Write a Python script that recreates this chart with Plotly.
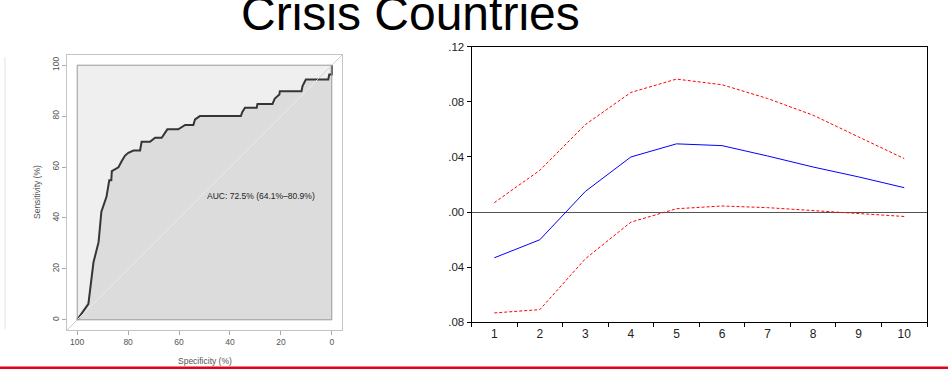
import plotly.graph_objects as go

W, H = 948, 369

# ---------------- data ----------------
# ROC curve (left panel)
roc_specificity = [100, 95.6, 93.6, 91.6, 90.5, 88.5, 87.4, 86.6, 86.4, 83.8, 82.5, 81.2, 79.9, 77.9,
                   75.3, 74.7, 71.4, 69.4, 66.8, 64.6, 60.3, 57.6, 54.4, 53.7, 51.8, 35.7, 35.2, 34.1,
                   29.5, 29.2, 23.3, 22.4, 20.6, 20.4, 11.9, 11.5, 10.2, 1.4, 1.0, 0, 0]
roc_sensitivity = [0, 6.3, 22.6, 30.5, 42.5, 48.3, 54.8, 54.8, 58.4, 59.9, 62.4, 64.5, 65.6, 66.5,
                   66.5, 69.9, 69.9, 71.5, 71.5, 74.8, 74.8, 76.5, 76.5, 78.7, 80.0, 80.0, 81.5, 83.3,
                   83.3, 84.8, 84.8, 86.9, 88.5, 89.8, 89.8, 91.8, 94.4, 94.4, 96.3, 96.3, 100]
roc_ticks = [100, 80, 60, 40, 20, 0]
auc_text = "AUC: 72.5% (64.1%–80.9%)"

# Impulse response (right panel)
periods = ["1", "2", "3", "4", "5", "6", "7", "8", "9", "10"]
response = [-0.0332, -0.0201, 0.0150, 0.0400, 0.0495, 0.0482, 0.0407, 0.0327, 0.0255, 0.0177]
upper_band = [0.0068, 0.0303, 0.0635, 0.0868, 0.0965, 0.0924, 0.0824, 0.0703, 0.0545, 0.0388]
lower_band = [-0.0732, -0.0708, -0.0339, -0.0073, 0.0024, 0.0044, 0.0032, 0.0012, -0.0012, -0.0032]
irf_tickvals = [0.12, 0.08, 0.04, 0.0, -0.04, -0.08]
irf_ticktext = [".12", ".08", ".04", ".00", ".04", ".08"]

title_text = "Crisis Countries"

FONT = "Liberation Sans, Arial, sans-serif"

fig = go.Figure()

# ---- ROC panel ----
fig.add_trace(go.Scatter(
    x=roc_specificity, y=roc_sensitivity, mode="lines",
    line=dict(color="#353535", width=2), fill="tozeroy", fillcolor="#dcdcdc",
    xaxis="x", yaxis="y", showlegend=False, hoverinfo="skip"))

# identity line (lighter where it lies inside the AUC polygon)
cross = 100 - 94.4
fig.add_trace(go.Scatter(x=[104, 100], y=[-4, 0], mode="lines",
                         line=dict(color="#cfcfcf", width=1), xaxis="x", yaxis="y",
                         showlegend=False, hoverinfo="skip"))
fig.add_trace(go.Scatter(x=[100, cross], y=[0, 100 - cross], mode="lines",
                         line=dict(color="#ebebeb", width=1), xaxis="x", yaxis="y",
                         showlegend=False, hoverinfo="skip"))
fig.add_trace(go.Scatter(x=[cross, -4], y=[100 - cross, 104], mode="lines",
                         line=dict(color="#d2d2d2", width=1), xaxis="x", yaxis="y",
                         showlegend=False, hoverinfo="skip"))

# ---- IRF panel ----
fig.add_trace(go.Scatter(x=periods, y=upper_band, mode="lines",
                         line=dict(color="#ff0000", width=1, dash="3px,2px"),
                         xaxis="x2", yaxis="y2", showlegend=False))
fig.add_trace(go.Scatter(x=periods, y=lower_band, mode="lines",
                         line=dict(color="#ff0000", width=1, dash="3px,2px"),
                         xaxis="x2", yaxis="y2", showlegend=False))
fig.add_trace(go.Scatter(x=periods, y=response, mode="lines",
                         line=dict(color="#0000ff", width=1),
                         xaxis="x2", yaxis="y2", showlegend=False))

def py(p):  # pixel-from-top -> paper y
    return 1 - p / H

def px(p):
    return p / W

shapes = [
    # light max-AUC polygon (inner square)
    dict(type="rect", xref="x", yref="y", x0=100, x1=0, y0=0, y1=100,
         fillcolor="#efefef", line=dict(width=0), layer="below"),
    # inner square border
    dict(type="rect", xref="x", yref="y", x0=100, x1=0, y0=0, y1=100,
         fillcolor="rgba(0,0,0,0)", line=dict(color="#9a9a9a", width=1), layer="above"),
    # faint separator at far left
    dict(type="line", xref="paper", yref="paper", x0=px(5), x1=px(5), y0=py(329), y1=py(57),
         line=dict(color="#e2e2e2", width=1)),
    # red bottom rule
    dict(type="rect", xref="paper", yref="paper", x0=0, x1=1, y0=0, y1=2.6 / H,
         fillcolor="#e2001a", line=dict(width=0)),
]

annotations = [
    dict(text=title_text, xref="paper", yref="paper", x=px(410), y=py(42.5),
         xanchor="center", yanchor="bottom", showarrow=False,
         font=dict(family=FONT, size=48, color="#000")),
    dict(text=auc_text, xref="x", yref="y", x=50, y=48.5, xanchor="left", yanchor="middle",
         showarrow=False, font=dict(family=FONT, size=8.5, color="#222")),
    dict(text="Specificity (%)", xref="paper", yref="paper", x=px(204.5), y=py(361),
         xanchor="center", yanchor="middle", showarrow=False,
         font=dict(family=FONT, size=8.5, color="#555")),
    dict(text="Sensitivity (%)", xref="paper", yref="paper", x=px(37), y=py(192),
         xanchor="center", yanchor="middle", textangle=-90, showarrow=False,
         font=dict(family=FONT, size=8.5, color="#555")),
]

fig.update_layout(
    width=W, height=H, margin=dict(l=0, r=0, t=0, b=0, pad=0, autoexpand=False),
    paper_bgcolor="white", plot_bgcolor="white",
    font=dict(family=FONT),
    shapes=shapes, annotations=annotations,
    xaxis=dict(domain=[px(67), px(342)], range=[104, -4], anchor="y",
               tickvals=roc_ticks, ticktext=[str(t) for t in roc_ticks],
               ticks="outside", ticklen=4, tickcolor="#aaaaaa",
               showline=True, mirror=True, linecolor="#c4c4c4", linewidth=1,
               showgrid=False, zeroline=False, automargin=False,
               tickfont=dict(size=8.5, color="#555")),
    yaxis=dict(domain=[py(330), py(55)], range=[-4, 104], anchor="x",
               tickvals=roc_ticks, ticktext=[str(t) for t in roc_ticks],
               ticks="outside", ticklen=4, tickcolor="#aaaaaa", tickangle=-90,
               showline=True, mirror=True, linecolor="#c4c4c4", linewidth=1,
               showgrid=False, zeroline=False, automargin=False,
               tickfont=dict(size=8.5, color="#555")),
    xaxis2=dict(domain=[px(471.5), px(927)], anchor="y2", type="category",
                categoryorder="array", categoryarray=periods, range=[-0.5, 9.5],
                tickson="boundaries", ticks="outside", ticklen=4, tickcolor="#000",
                showline=True, mirror=True, linecolor="#000", linewidth=1,
                showgrid=False, zeroline=False, automargin=False,
                tickfont=dict(size=12, color="#222")),
    yaxis2=dict(domain=[py(322.3), py(46.7)], anchor="x2", range=[-0.08, 0.12],
                tickvals=irf_tickvals, ticktext=irf_ticktext,
                ticks="outside", ticklen=4, tickcolor="#000",
                showline=True, mirror=True, linecolor="#000", linewidth=1,
                showgrid=False, zeroline=True, zerolinecolor="#555", zerolinewidth=1.2,
                automargin=False,
                tickfont=dict(size=11.5, color="#222")),
)

fig.write_html("out.html")
